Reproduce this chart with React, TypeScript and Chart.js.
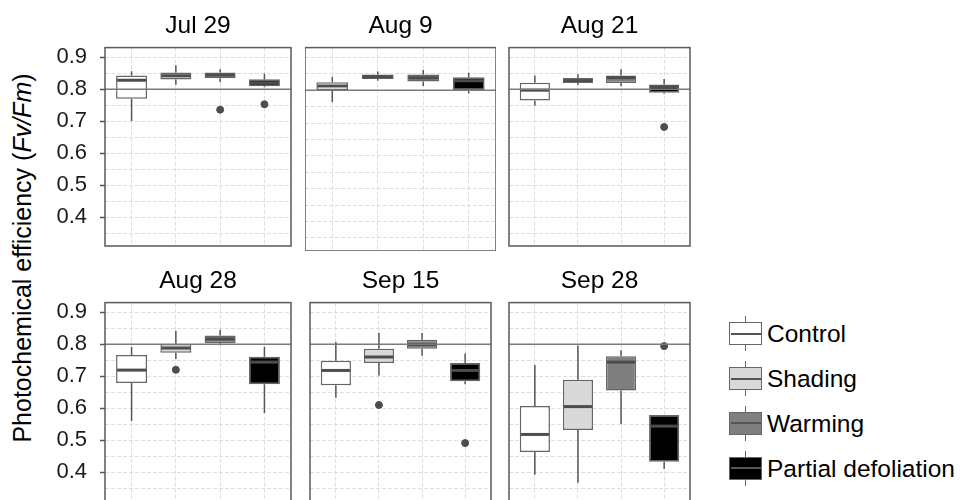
import React, { useEffect, useRef } from "react";
import { Chart, registerables } from "chart.js";

Chart.register(...registerables);

// ---------------- data ----------------
const dates = ["Jul 29", "Aug 9", "Aug 21", "Aug 28", "Sep 15", "Sep 28"];
const treatments = ["Control", "Shading", "Warming", "Partial defoliation"];
const fillColors = ["#ffffff", "#d9d9d9", "#7f7f7f", "#000000"];

// rows = dates, columns = treatments
const whiskerLow = [
  [0.701, 0.814, 0.822, 0.806],
  [0.764, 0.829, 0.813, 0.79],
  [0.748, 0.813, 0.809, 0.786],
  [0.56, 0.754, 0.797, 0.585],
  [0.633, 0.702, 0.764, 0.675],
  [0.392, 0.367, 0.551, 0.41],
];
const q1 = [
  [0.77, 0.83, 0.834, 0.809],
  [0.801, 0.834, 0.827, 0.801],
  [0.765, 0.819, 0.819, 0.789],
  [0.679, 0.773, 0.803, 0.675],
  [0.672, 0.741, 0.786, 0.684],
  [0.463, 0.532, 0.655, 0.433],
];
const medians = [
  [0.828, 0.842, 0.844, 0.82],
  [0.813, 0.841, 0.838, 0.829],
  [0.797, 0.827, 0.836, 0.807],
  [0.719, 0.788, 0.816, 0.744],
  [0.718, 0.76, 0.799, 0.718],
  [0.518, 0.605, 0.744, 0.544],
];
const q3 = [
  [0.843, 0.852, 0.852, 0.831],
  [0.824, 0.848, 0.848, 0.84],
  [0.82, 0.835, 0.843, 0.815],
  [0.766, 0.801, 0.827, 0.761],
  [0.748, 0.786, 0.814, 0.741],
  [0.607, 0.689, 0.762, 0.579],
];
const whiskerHigh = [
  [0.856, 0.875, 0.862, 0.848],
  [0.841, 0.857, 0.862, 0.853],
  [0.843, 0.847, 0.862, 0.832],
  [0.791, 0.842, 0.845, 0.791],
  [0.807, 0.836, 0.835, 0.771],
  [0.735, 0.796, 0.781, 0.579],
];
const outliers: number[][][] = [
  [[], [], [0.736], [0.753]],
  [[], [], [], []],
  [[], [], [], [0.682]],
  [[], [0.72], [], []],
  [[], [0.61], [], [0.491]],
  [[], [], [], [0.794]],
];
const yGridTicks = [0.35, 0.4, 0.45, 0.5, 0.55, 0.6, 0.65, 0.7, 0.75, 0.8, 0.85, 0.9];
const yLabelTicks = [0.4, 0.5, 0.6, 0.7, 0.8, 0.9];
const referenceLine = 0.8;
const yMin = 0.31;
const yMax = 0.93;

// ---------------- layout ----------------
const FONT = '"Liberation Sans", Arial, Helvetica, sans-serif';
const PANEL_W = 191;
const PANEL_H = 204;
const COL_LEFT = [105, 305, 504];
const ROW_TOP = [47, 302];
const TITLE_H = 47;
const AXIS_W = 65;

const isLabelTick = (v: number) => yLabelTicks.some((t) => Math.abs(t - v) < 1e-6);

function boxPlugin(d: number) {
  return {
    id: "boxParts" + d,
    beforeDatasetsDraw(chart: any) {
      const { ctx } = chart;
      const x = chart.scales.x;
      const y = chart.scales.y;
      ctx.save();
      ctx.strokeStyle = "#555555";
      ctx.lineWidth = 1.5;
      treatments.forEach((_, i) => {
        const px = x.getPixelForValue(i + 1);
        ctx.beginPath();
        ctx.moveTo(px, y.getPixelForValue(whiskerHigh[d][i]));
        ctx.lineTo(px, y.getPixelForValue(q3[d][i]));
        ctx.moveTo(px, y.getPixelForValue(q1[d][i]));
        ctx.lineTo(px, y.getPixelForValue(whiskerLow[d][i]));
        ctx.stroke();
      });
      ctx.restore();
    },
    afterDatasetsDraw(chart: any) {
      const { ctx, chartArea } = chart;
      const y = chart.scales.y;
      const meta = chart.getDatasetMeta(0);
      ctx.save();
      ctx.strokeStyle = "#4d4d4d";
      ctx.lineWidth = 3;
      meta.data.forEach((bar: any, i: number) => {
        const { x: cx, width } = bar.getProps(["x", "width"], true);
        const py = y.getPixelForValue(medians[d][i]);
        ctx.beginPath();
        ctx.moveTo(cx - width / 2 + 1, py);
        ctx.lineTo(cx + width / 2 - 1, py);
        ctx.stroke();
      });
      // reference line
      const ry = y.getPixelForValue(referenceLine);
      ctx.strokeStyle = "#7a7a7a";
      ctx.lineWidth = 1.5;
      ctx.beginPath();
      ctx.moveTo(chartArea.left, ry);
      ctx.lineTo(chartArea.right, ry);
      ctx.stroke();
      ctx.restore();
    },
    afterDraw(chart: any) {
      const { ctx, chartArea } = chart;
      ctx.save();
      ctx.strokeStyle = "#5a5a5a";
      ctx.lineWidth = 1.5;
      ctx.strokeRect(
        chartArea.left,
        chartArea.top,
        chartArea.right - chartArea.left,
        chartArea.bottom - chartArea.top
      );
      ctx.restore();
    },
  };
}

function Panel({ d }: { d: number }) {
  const ref = useRef<HTMLCanvasElement>(null);
  const col = d % 3;
  const row = Math.floor(d / 3);
  const showY = col === 0;
  const left = COL_LEFT[col] - (showY ? AXIS_W : 0);
  const top = ROW_TOP[row] - TITLE_H;
  const width = PANEL_W + (showY ? AXIS_W : 0);
  const height = PANEL_H + TITLE_H;

  useEffect(() => {
    if (!ref.current) return;
    const chart = new Chart(ref.current, {
      type: "bar",
      data: {
        datasets: [
          {
            type: "bar",
            data: treatments.map((_, i) => ({ x: i + 1, y: [q1[d][i], q3[d][i]] })),
            backgroundColor: fillColors,
            borderColor: "#666666",
            borderWidth: 1.5,
            borderSkipped: false,
            barPercentage: 0.7,
            categoryPercentage: 1,
            order: 2,
          } as any,
          {
            type: "scatter",
            data: outliers[d].flatMap((vals, i) => vals.map((v) => ({ x: i + 1, y: v }))),
            backgroundColor: "#4d4d4d",
            borderColor: "#4d4d4d",
            pointRadius: 3.5,
            order: 1,
          } as any,
        ],
      },
      options: {
        responsive: false,
        animation: false,
        events: [],
        layout: { padding: 0 },
        plugins: {
          legend: { display: false },
          tooltip: { enabled: false },
          title: {
            display: true,
            fullSize: false,
            text: dates[d],
            color: "#000000",
            font: { family: FONT, size: 24.5, weight: "normal" },
            padding: { top: 12, bottom: 6.2 },
          },
        },
        scales: {
          x: {
            type: "linear",
            min: 0.4,
            max: 4.6,
            offset: false,
            afterBuildTicks: (s: any) => {
              s.ticks = treatments.map((_, i) => ({ value: i + 1 }));
            },
            afterFit: (s: any) => {
              s.height = 0;
              s.paddingLeft = 0;
              s.paddingRight = 0;
            },
            ticks: { display: false },
            grid: { color: "#dedede", lineWidth: 1, drawTicks: false, offset: false },
            border: { display: false, dash: [4, 2] },
          },
          y: {
            type: "linear",
            min: yMin,
            max: yMax,
            afterBuildTicks: (s: any) => {
              s.ticks = yGridTicks.map((v) => ({ value: v }));
            },
            afterFit: (s: any) => {
              s.width = showY ? AXIS_W : 0;
              s.paddingTop = 0;
              s.paddingBottom = 0;
            },
            ticks: {
              display: showY,
              autoSkip: false,
              padding: 13,
              color: "#1a1a1a",
              font: { family: FONT, size: 22 },
              callback: (v: any) => (isLabelTick(Number(v)) ? Number(v).toFixed(1) : ""),
            },
            grid: {
              color: "#dedede",
              lineWidth: 1,
              drawTicks: showY,
              tickLength: 5,
              tickWidth: 1.5,
              tickColor: (ctx: any) =>
                ctx.tick && isLabelTick(ctx.tick.value) ? "#555555" : "rgba(0,0,0,0)",
            },
            border: { display: false, dash: [4, 2] },
          },
        },
      } as any,
      plugins: [boxPlugin(d)],
    });
    return () => chart.destroy();
  }, [d]);

  return (
    <canvas
      ref={ref}
      width={width}
      height={height}
      style={{ position: "absolute", left, top, width, height }}
    />
  );
}

function LegendKey({ i }: { i: number }) {
  const boxTop = 322.3 + i * 44.8;
  return (
    <div
      style={{
        position: "absolute",
        left: 729,
        top: boxTop - 6,
        height: 35,
        display: "flex",
        alignItems: "center",
      }}
    >
      <div style={{ position: "relative", width: 33, height: 35 }}>
        <div
          style={{
            position: "absolute",
            left: 15.75,
            top: 0,
            width: 1.5,
            height: 35,
            background: "#666666",
          }}
        />
        <div
          style={{
            position: "absolute",
            left: 0,
            top: 6,
            width: 33,
            height: 23,
            boxSizing: "border-box",
            border: "1.5px solid #666666",
            background: fillColors[i],
          }}
        />
        <div
          style={{
            position: "absolute",
            left: 1.5,
            top: 16.5,
            width: 30,
            height: 2,
            background: "#555555",
          }}
        />
      </div>
      <div
        style={{
          marginLeft: 5,
          fontFamily: FONT,
          fontSize: 24.5,
          lineHeight: "35px",
          color: "#000",
          whiteSpace: "nowrap",
        }}
      >
        {treatments[i]}
      </div>
    </div>
  );
}

export default function App() {
  return (
    <div
      style={{
        position: "fixed",
        left: 0,
        top: 0,
        width: 962,
        height: 500,
        overflow: "hidden",
        background: "#ffffff",
      }}
    >
      {dates.map((_, d) => (
        <Panel key={d} d={d} />
      ))}
      <div
        style={{
          position: "absolute",
          left: 21.5 - 250,
          top: 257.5 - 15,
          width: 500,
          height: 30,
          lineHeight: "30px",
          textAlign: "center",
          transform: "rotate(-90deg)",
          fontFamily: FONT,
          fontSize: 25,
          color: "#000",
          whiteSpace: "nowrap",
        }}
      >
        Photochemical efficiency (<i>Fv/Fm</i>)
      </div>
      {treatments.map((_, i) => (
        <LegendKey key={i} i={i} />
      ))}
    </div>
  );
}
